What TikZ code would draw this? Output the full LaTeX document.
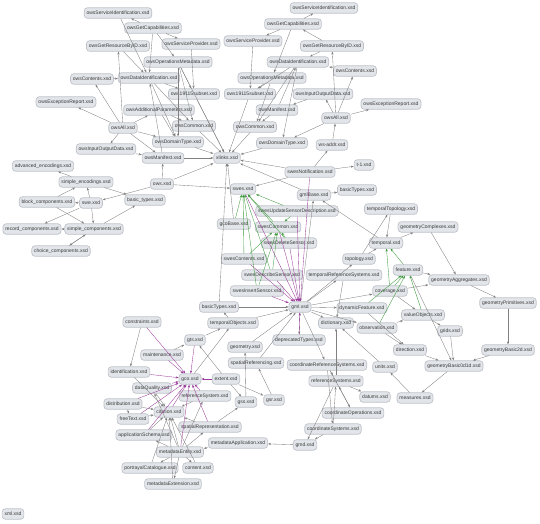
\documentclass[tikz,border=0pt]{standalone}
\usepackage{fontspec}
\setmainfont{Liberation Sans}
\usetikzlibrary{arrows.meta}
\definecolor{nfill}{HTML}{E2E5E9}
\definecolor{ndraw}{HTML}{BFC3C9}
\definecolor{ntext}{HTML}{3A3A3A}
\definecolor{egray}{HTML}{808080}
\definecolor{egreen}{HTML}{3E9A3E}
\definecolor{epurple}{HTML}{9A3C9A}
\tikzset{
  f/.style={draw=ndraw, fill=nfill, rounded corners=3.2pt, line width=0.7pt,
    text=ntext, font=\fontsize{5}{5.5}\selectfont, inner xsep=2.4pt, inner ysep=1pt,
    minimum height=10.5pt},
  e/.style={draw=egray, line width=0.35pt, -{Stealth[length=3pt,width=2.2pt]}},
  eg/.style={e, draw=egreen},
  ep/.style={e, draw=epurple},
}
\begin{document}
\begin{tikzpicture}[x=1pt,y=-1pt]
\useasboundingbox (0,0) rectangle (540,523);
% ---- left OWS cluster
\node[f] (sIdL) at (118,13) {owsServiceIdentification.xsd};
\node[f] (gCapL) at (153,28) {owsGetCapabilities.xsd};
\node[f] (gResL) at (118,46) {owsGetResourceByID.xsd};
\node[f] (sProvL) at (191,44) {owsServiceProvider.xsd};
\node[f] (opsL) at (178,62) {owsOperationsMetadata.xsd};
\node[f] (contL) at (92,79) {owsContents.xsd};
\node[f] (dIdL) at (149,78) {owsDataIdentification.xsd};
\node[f] (o19L) at (194,94) {ows19115subset.xsd};
\node[f] (excL) at (66,102) {owsExceptionReport.xsd};
\node[f] (addL) at (159,110) {owsAdditionalParameters.xsd};
\node[f] (comL) at (194,126) {owsCommon.xsd};
\node[f] (allL) at (123,128) {owsAll.xsd};
\node[f] (domL) at (178,142) {owsDomainType.xsd};
\node[f] (ioL) at (106,149) {owsInputOutputData.xsd};
\node[f] (manL) at (163,158) {owsManifest.xsd};
\node[f] (xlinks) at (227,158) {xlinks.xsd};
% ---- right OWS cluster
\node[f] (sIdR) at (324,8) {owsServiceIdentification.xsd};
\node[f] (gCapR) at (293,24) {owsGetCapabilities.xsd};
\node[f] (sProvR) at (253,41) {owsServiceProvider.xsd};
\node[f] (gResR) at (332,46) {owsGetResourceByID.xsd};
\node[f] (dIdR) at (298,62) {owsDataIdentification.xsd};
\node[f] (contR) at (355,71) {owsContents.xsd};
\node[f] (opsR) at (272,78) {owsOperationsMetadata.xsd};
\node[f] (o19R) at (250,94) {ows19115subset.xsd};
\node[f] (ioR) at (323,94) {owsInputOutputData.xsd};
\node[f] (excR) at (391,104) {owsExceptionReport.xsd};
\node[f] (manR) at (277,110) {owsManifest.xsd};
\node[f] (allR) at (336,118) {owsAll.xsd};
\node[f] (comR) at (255,127) {owsCommon.xsd};
\node[f] (domR) at (282,143) {owsDomainType.xsd};
\node[f] (wsaddr) at (332,145) {ws-addr.xsd};
\node[f] (t1) at (364,165) {t-1.xsd};
\node[f] (swesNot) at (310,172) {swesNotification.xsd};
% ---- SWE common
\node[f] (advEnc) at (43,166) {advanced\_encodings.xsd};
\node[f] (simpEnc) at (86,182) {simple\_encodings.xsd};
\node[f] (owsx) at (162,184) {ows.xsd};
\node[f] (blockC) at (47,202) {block\_components.xsd};
\node[f] (swe) at (91,203) {swe.xsd};
\node[f] (basicT) at (145,200) {basic\_types.xsd};
\node[f] (recC) at (32,229) {record\_components.xsd};
\node[f] (simpC) at (94,229) {simple\_components.xsd};
\node[f] (choiceC) at (61,251) {choice\_components.xsd};
% ---- middle
\node[f] (swes) at (243,189) {swes.xsd};
\node[f] (gmlBase) at (314,195) {gmlBase.xsd};
\node[f] (basicTU) at (357,190) {basicTypes.xsd};
\node[f] (tTopo) at (391,209) {temporalTopology.xsd};
\node[f] (swesUpd) at (297,211) {swesUpdateSensorDescription.xsd};
\node[f] (gcoBase) at (234,224) {gcoBase.xsd};
\node[f] (swesCom) at (278,227) {swesCommon.xsd};
\node[f] (geomCx) at (428,227) {geometryComplexes.xsd};
\node[f] (swesDel) at (289,243) {swesDeleteSensor.xsd};
\node[f] (temporal) at (386,243) {temporal.xsd};
\node[f] (swesCont) at (244,259) {swesContents.xsd};
\node[f] (topo) at (359,259) {topology.xsd};
\node[f] (swesDesc) at (272,275) {swesDescribeSensor.xsd};
\node[f] (tRef) at (344,275) {temporalReferenceSystems.xsd};
\node[f] (feature) at (408,270) {feature.xsd};
\node[f] (geomAgg) at (459,280) {geometryAggregates.xsd};
\node[f] (swesIns) at (257,291) {swesInsertSensor.xsd};
\node[f] (coverage) at (390,291) {coverage.xsd};
\node[f] (geomPrim) at (508,303) {geometryPrimitives.xsd};
\node[f] (basicTL) at (219,307) {basicTypes.xsd};
\node[f] (gml) at (300,307) {gml.xsd};
\node[f] (dynF) at (362,308) {dynamicFeature.xsd};
\node[f] (valObj) at (423,315) {valueObjects.xsd};
\node[f] (dict) at (336,323) {dictionary.xsd};
\node[f] (obs) at (377,328) {observation.xsd};
\node[f] (grids) at (450,331) {grids.xsd};
\node[f] (depr) at (299,340) {deprecatedTypes.xsd};
\node[f] (dir) at (410,350) {direction.xsd};
\node[f] (geom2d) at (508,350) {geometryBasic2d.xsd};
\node[f] (crs) at (327,365) {coordinateReferenceSystems.xsd};
\node[f] (units) at (385,367) {units.xsd};
\node[f] (geom01) at (454,366) {geometryBasic0d1d.xsd};
\node[f] (refSys) at (336,381) {referenceSystems.xsd};
\node[f] (datums) at (375,397) {datums.xsd};
\node[f] (meas) at (415,398) {measures.xsd};
\node[f] (coordOp) at (353,413) {coordinateOperations.xsd};
\node[f] (coordSys) at (333,429) {coordinateSystems.xsd};
\node[f] (gmd) at (305,445) {gmd.xsd};
% ---- ISO 19139
\node[f] (constr) at (142,322) {constraints.xsd};
\node[f] (tObj) at (233,323) {temporalObjects.xsd};
\node[f] (gts) at (195,340) {gts.xsd};
\node[f] (geometry) at (245,347) {geometry.xsd};
\node[f] (maint) at (162,355) {maintenance.xsd};
\node[f] (spRef) at (256,363) {spatialReferencing.xsd};
\node[f] (ident) at (129,372) {identification.xsd};
\node[f] (gco) at (190,379) {gco.xsd};
\node[f] (extent) at (226,379) {extent.xsd};
\node[f] (dq) at (152,388) {dataQuality.xsd};
\node[f] (refSysG) at (205,396) {referenceSystem.xsd};
\node[f] (gss) at (246,402) {gss.xsd};
\node[f] (gsr) at (274,400) {gsr.xsd};
\node[f] (distr) at (123,404) {distribution.xsd};
\node[f] (citation) at (169,412) {citation.xsd};
\node[f] (freeT) at (133,419) {freeText.xsd};
\node[f] (spRep) at (210,427) {spatialRepresentation.xsd};
\node[f] (appS) at (144,435) {applicationSchema.xsd};
\node[f] (metaApp) at (238,443) {metadataApplication.xsd};
\node[f] (metaEnt) at (180,452) {metadataEntity.xsd};
\node[f] (portr) at (150,468) {portrayalCatalogue.xsd};
\node[f] (content) at (198,468) {content.xsd};
\node[f] (metaExt) at (173,484) {metadataExtension.xsd};
\node[f] (xml) at (13,514) {xml.xsd};
% ---- gray edges
\foreach \a/\b in {gCapL/sIdL, gCapL/sProvL, gCapL/opsL, gCapL/dIdL, sIdL/dIdL, gResL/dIdL,
  sProvL/o19L, opsL/o19L, opsL/comL, opsL/domL, opsL/xlinks, contL/dIdL, dIdL/o19L, dIdL/comL,
  dIdL/domL, allL/contL, allL/excL, allL/gResL, allL/addL, allL/ioL, allL/domL, allL/manL,
  addL/comL, addL/domL, ioL/manL, manL/dIdL, o19L/xlinks, comL/xlinks, domL/xlinks, manL/xlinks,
  gCapR/sIdR, gCapR/sProvR, gCapR/opsR, gResR/gCapR, gResR/dIdR, sProvR/o19R, dIdR/o19R,
  dIdR/comR, dIdR/domR, opsR/o19R, opsR/comR, contR/dIdR, allR/contR, allR/gResR, allR/ioR,
  allR/excR, allR/domR, ioR/manR, manR/dIdR, manR/comR, o19R/xlinks, comR/xlinks, domR/xlinks,
  swesNot/wsaddr, wsaddr/allR, swesNot/t1, swesNot/xlinks, swesNot/swes,
  simpEnc/advEnc, blockC/simpEnc, swe/simpEnc, swe/blockC, swe/simpC, swe/recC, blockC/simpC,
  simpC/recC, simpC/choiceC, choiceC/simpC, simpC/basicT, simpEnc/basicT, owsx/swe, owsx/manL,
  owsx/xlinks, owsx/swes,
  gcoBase/xlinks, basicTL/xlinks, gmlBase/basicTU, gmlBase/xlinks, temporal/gmlBase,
  tTopo/temporal, topo/tTopo, topo/temporal, temporal/geomCx, geomCx/geomAgg, feature/geomAgg,
  coverage/geomAgg, geomAgg/geomPrim, geomPrim/geom2d, geom2d/geom01, geom01/meas, grids/geom01,
  valObj/grids, dir/geom01, feature/geom01, coverage/valObj, obs/valObj, obs/dir, dynF/dir,
  meas/units, units/dict, refSys/dict, refSys/datums, coordOp/refSys, coordSys/refSys,
  crs/coordOp, crs/coordSys, crs/refSys, coordSys/gmd, refSys/gmd, gmd/metaApp, metaApp/metaEnt,
  gml/coverage, gml/dynF, gml/dict, gml/depr, gml/crs, gml/obs, gml/tRef, gml/topo,
  tRef/dict, basicTL/gml, tObj/gml, tObj/basicTL, geometry/gml, spRef/gml, gml/gmlBase,
  gts/tObj, maint/gts, extent/gss, extent/gsr, extent/gts, gss/geometry, gsr/spRef, spRep/gss,
  constr/ident, ident/citation, dq/citation, distr/citation, appS/citation, metaEnt/citation,
  portr/citation, content/citation, metaExt/citation, spRep/citation, refSysG/citation,
  metaEnt/spRep, metaEnt/portr, metaEnt/content, metaEnt/appS, metaEnt/metaExt, freeT/citation,
  metaEnt/dq, metaEnt/refSysG, distr/freeT, gco/tObj}
  \draw[e] (\a) -- (\b);
% ---- green edges
\foreach \a/\b in {swesUpd/swes, swesCom/swes, swesDel/swes, swesCont/swes, swesDesc/swes,
  swesIns/swes, gcoBase/swes, swesUpd/swesCom, swesDel/swesCom, swesDesc/swesCom,
  swesIns/swesCom, swesCont/swesCom, feature/temporal, coverage/temporal, dynF/feature,
  obs/feature, valObj/feature, coverage/feature}
  \draw[eg] (\a) -- (\b);
% ---- purple edges
\foreach \a/\b in {swesCom/gml, swesDel/gml, swesDesc/gml, swesIns/gml, swesUpd/gml, swes/gml,
  swesCont/gml, swesNot/gml, depr/gml, maint/gco, ident/gco, dq/gco, extent/gco, refSysG/gco,
  citation/gco, spRep/gco, distr/gco, metaEnt/gco, constr/gco, gts/gco, freeT/gco, appS/gco}
  \draw[ep] (\a) -- (\b);
\end{tikzpicture}
\end{document}
